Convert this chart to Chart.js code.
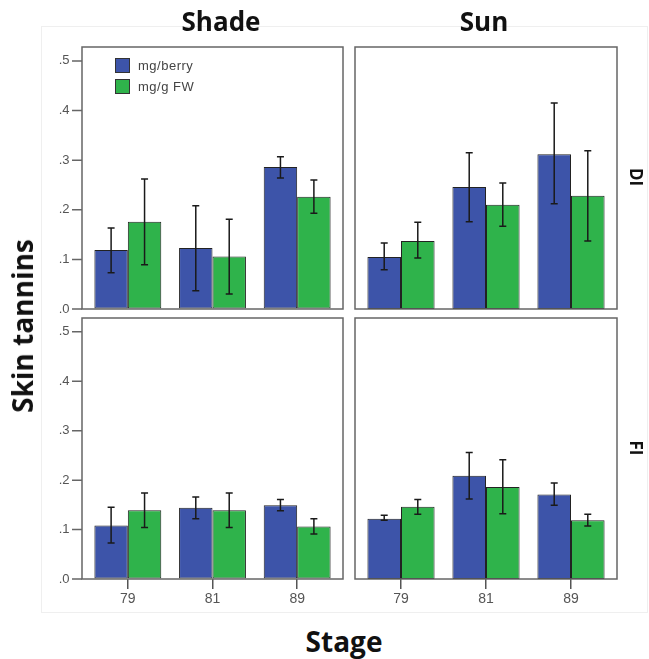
<!DOCTYPE html>
<html>
<head>
<meta charset="utf-8">
<script src="https://cdn.jsdelivr.net/npm/chart.js@4/dist/chart.umd.min.js"></script>
<style>
  html,body{margin:0;padding:0;background:#fff;}
  body{width:649px;height:659px;position:relative;overflow:hidden;font-family:"Liberation Sans",Arial,sans-serif;}
  canvas{position:absolute;}
  .t{position:absolute;font-family:"Open Sans",sans-serif;font-weight:700;color:#111;line-height:1;white-space:nowrap;transform:translate(-50%,-50%);}
  .box{position:absolute;left:41px;top:26px;width:607px;height:587px;border:1px solid #efefef;box-sizing:border-box;}
  .leg{position:absolute;left:115px;font-size:13px;color:#444;line-height:15px;height:15px;white-space:nowrap;letter-spacing:0.5px;}
  .leg span.sw{display:inline-block;width:13px;height:13px;border:1px solid #333;vertical-align:top;margin-right:8px;}
</style>
</head>
<body>
<div class="box"></div>
<canvas id="tl" width="333" height="282" style="left:20px;top:37px"></canvas>
<canvas id="tr" width="282" height="282" style="left:345px;top:37px"></canvas>
<canvas id="bl" width="333" height="307" style="left:20px;top:308px"></canvas>
<canvas id="br" width="282" height="307" style="left:345px;top:308px"></canvas>

<div class="t" style="left:221px;top:21px;font-size:26px">Shade</div>
<div class="t" style="left:484px;top:21px;font-size:26px">Sun</div>
<div class="t" style="left:344px;top:641px;font-size:28px">Stage</div>
<div class="t" style="left:22px;top:326px;font-size:28px;transform:translate(-50%,-50%) rotate(-90deg)">Skin tannins</div>
<div class="t" style="left:636px;top:177px;font-size:17px;transform:translate(-50%,-50%) rotate(90deg)">DI</div>
<div class="t" style="left:636px;top:448px;font-size:17px;transform:translate(-50%,-50%) rotate(90deg)">FI</div>
<div id="legend"></div>

<script>
// ---- data ----
const stages = ['79', '81', '89'];
const seriesNames = ['mg/berry', 'mg/g FW'];
const seriesColors = ['#3D54A9', '#2FB34B'];
const yTickLabels = ['.0', '.1', '.2', '.3', '.4', '.5'];
const yMax = 0.528;

// Shade / DI
const shadeDI_berry    = [0.119, 0.123, 0.286];
const shadeDI_berry_lo = [0.073, 0.037, 0.264];
const shadeDI_berry_hi = [0.163, 0.208, 0.307];
const shadeDI_fw       = [0.176, 0.106, 0.226];
const shadeDI_fw_lo    = [0.089, 0.030, 0.193];
const shadeDI_fw_hi    = [0.262, 0.181, 0.260];
// Sun / DI
const sunDI_berry      = [0.105, 0.246, 0.312];
const sunDI_berry_lo   = [0.079, 0.176, 0.212];
const sunDI_berry_hi   = [0.133, 0.315, 0.415];
const sunDI_fw         = [0.137, 0.210, 0.228];
const sunDI_fw_lo      = [0.103, 0.167, 0.137];
const sunDI_fw_hi      = [0.175, 0.254, 0.319];
// Shade / FI
const shadeFI_berry    = [0.108, 0.144, 0.149];
const shadeFI_berry_lo = [0.073, 0.122, 0.138];
const shadeFI_berry_hi = [0.145, 0.166, 0.161];
const shadeFI_fw       = [0.139, 0.139, 0.106];
const shadeFI_fw_lo    = [0.104, 0.104, 0.091];
const shadeFI_fw_hi    = [0.174, 0.174, 0.122];
// Sun / FI
const sunFI_berry      = [0.122, 0.209, 0.171];
const sunFI_berry_lo   = [0.119, 0.162, 0.149];
const sunFI_berry_hi   = [0.129, 0.256, 0.194];
const sunFI_fw         = [0.146, 0.186, 0.119];
const sunFI_fw_lo      = [0.131, 0.132, 0.107];
const sunFI_fw_hi      = [0.161, 0.241, 0.131];

// ---- legend (HTML) ----
const legendEl = document.getElementById('legend');
seriesNames.forEach((n, i) => {
  const d = document.createElement('div');
  d.className = 'leg';
  d.style.top = (58 + i * 20.5) + 'px';
  d.innerHTML = '<span class="sw" style="background:' + seriesColors[i] + '"></span>' + n;
  legendEl.appendChild(d);
});

// ---- plugins ----
const FRAME_INSET = 3.5;
const framePlugin = {
  id: 'frame',
  afterDraw(chart, args, opts) {
    const ctx = chart.ctx, a = chart.chartArea;
    ctx.save();
    ctx.strokeStyle = '#666';
    ctx.lineWidth = 1.5;
    const l = a.left - FRAME_INSET, r = a.right + FRAME_INSET;
    ctx.strokeRect(l, a.top, r - l, a.bottom - a.top);
    if (opts.showY) {
      const ys = chart.scales.y;
      ctx.beginPath();
      ys.ticks.forEach(t => {
        const py = ys.getPixelForValue(t.value);
        ctx.moveTo(l - 10, py);
        ctx.lineTo(l, py);
      });
      ctx.stroke();
    }
    ctx.restore();
  }
};
const errorPlugin = {
  id: 'errbars',
  afterDatasetsDraw(chart) {
    const ctx = chart.ctx, ys = chart.scales.y;
    ctx.save();
    ctx.strokeStyle = '#1a1a1a';
    ctx.lineWidth = 1.5;
    chart.data.datasets.forEach((ds, i) => {
      const meta = chart.getDatasetMeta(i);
      meta.data.forEach((el, j) => {
        const x = el.x;
        const y1 = ys.getPixelForValue(ds.errLo[j]);
        const y2 = ys.getPixelForValue(ds.errHi[j]);
        ctx.beginPath();
        ctx.moveTo(x, y1); ctx.lineTo(x, y2);
        ctx.moveTo(x - 3.5, y1); ctx.lineTo(x + 3.5, y1);
        ctx.moveTo(x - 3.5, y2); ctx.lineTo(x + 3.5, y2);
        ctx.stroke();
      });
    });
    ctx.restore();
  }
};

function panel(id, series, showY, showX, padding) {
  const datasets = series.map((s, i) => ({
    label: seriesNames[i],
    data: s.mean,
    errLo: s.lo,
    errHi: s.hi,
    backgroundColor: seriesColors[i],
    borderColor: '#222',
    borderWidth: 1,
    borderSkipped: false,
    categoryPercentage: 0.79,
    barPercentage: 1.0
  }));
  return new Chart(document.getElementById(id), {
    type: 'bar',
    data: { labels: stages, datasets },
    plugins: [framePlugin, errorPlugin],
    options: {
      responsive: false,
      animation: false,
      devicePixelRatio: 1,
      layout: { padding },
      plugins: {
        legend: { display: false },
        tooltip: { enabled: false },
        frame: { showY }
      },
      scales: {
        x: {
          display: showX,
          offset: true,
          border: { display: false },
          grid: { display: true, drawOnChartArea: false, drawTicks: true, tickLength: 10, offset: false, color: '#555', lineWidth: 1.5 },
          ticks: { color: '#555', font: { family: 'Liberation Sans', size: 14 }, padding: 2 },
          afterFit: (s) => { if (s.options.display) s.height = 26; }
        },
        y: {
          display: showY,
          min: 0,
          max: yMax,
          border: { display: false },
          grid: { display: true, drawOnChartArea: false, drawTicks: true, tickLength: 14, color: 'rgba(0,0,0,0)' },
          ticks: {
            stepSize: 0.1,
            includeBounds: false,
            color: '#555',
            font: { family: 'Liberation Sans', size: 13 },
            padding: 2,
            callback: (v) => yTickLabels[Math.round(v * 10)]
          },
          afterFit: (s) => { if (s.options.display) s.width = 65.5; }
        }
      }
    }
  });
}

panel('tl', [
  { mean: shadeDI_berry, lo: shadeDI_berry_lo, hi: shadeDI_berry_hi },
  { mean: shadeDI_fw, lo: shadeDI_fw_lo, hi: shadeDI_fw_hi }
], true, false, { top: 10, bottom: 10, left: 0, right: 13.5 });

panel('tr', [
  { mean: sunDI_berry, lo: sunDI_berry_lo, hi: sunDI_berry_hi },
  { mean: sunDI_fw, lo: sunDI_fw_lo, hi: sunDI_fw_hi }
], false, false, { top: 10, bottom: 10, left: 13.5, right: 13.5 });

panel('bl', [
  { mean: shadeFI_berry, lo: shadeFI_berry_lo, hi: shadeFI_berry_hi },
  { mean: shadeFI_fw, lo: shadeFI_fw_lo, hi: shadeFI_fw_hi }
], true, true, { top: 10, bottom: 10, left: 0, right: 13.5 });

panel('br', [
  { mean: sunFI_berry, lo: sunFI_berry_lo, hi: sunFI_berry_hi },
  { mean: sunFI_fw, lo: sunFI_fw_lo, hi: sunFI_fw_hi }
], false, true, { top: 10, bottom: 10, left: 13.5, right: 13.5 });
</script>
</body>
</html>
